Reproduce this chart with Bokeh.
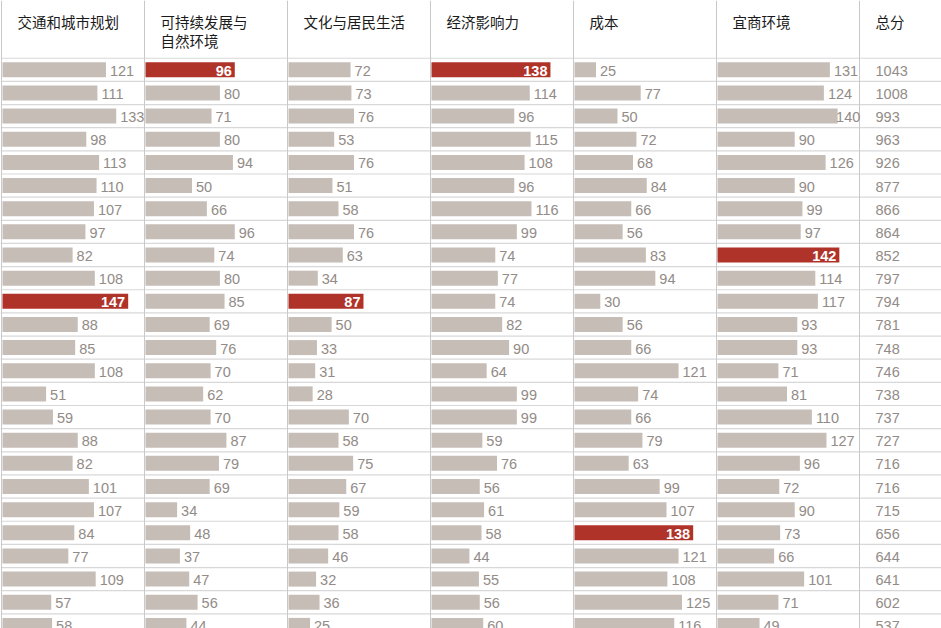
import numpy as np
from bokeh.plotting import figure
from bokeh.models import Range1d
from bokeh.core.properties import value
from bokeh.embed import file_html
from bokeh.resources import INLINE

# ---------------- data ----------------
headers = ["交通和城市规划", "可持续发展与\n自然环境", "文化与居民生活", "经济影响力", "成本", "宜商环境", "总分"]

transport = [121, 111, 133, 98, 113, 110, 107, 97, 82, 108, 147, 88, 85, 108, 51, 59, 88, 82, 101, 107, 84, 77, 109, 57, 58]
sustain = [96, 80, 71, 80, 94, 50, 66, 96, 74, 80, 85, 69, 76, 70, 62, 70, 87, 79, 69, 34, 48, 37, 47, 56, 44]
culture = [72, 73, 76, 53, 76, 51, 58, 76, 63, 34, 87, 50, 33, 31, 28, 70, 58, 75, 67, 59, 58, 46, 32, 36, 25]
economy = [138, 114, 96, 115, 108, 96, 116, 99, 74, 77, 74, 82, 90, 64, 99, 99, 59, 76, 56, 61, 58, 44, 55, 56, 60]
cost = [25, 77, 50, 72, 68, 84, 66, 56, 83, 94, 30, 56, 66, 121, 74, 66, 79, 63, 99, 107, 138, 121, 108, 125, 116]
business = [131, 124, 140, 90, 126, 90, 99, 97, 142, 114, 117, 93, 93, 71, 81, 110, 127, 96, 72, 90, 73, 66, 101, 71, 49]
total = [1043, 1008, 993, 963, 926, 877, 866, 864, 852, 797, 794, 781, 748, 746, 738, 737, 727, 716, 716, 715, 656, 644, 641, 602, 537]

series = [transport, sustain, culture, economy, cost, business]

# ---------------- layout constants ----------------
W_PX, H_PX = 941, 628
COL_SCALE = [0.855, 0.93, 0.862, 0.862, 0.86, 0.858]   # pixels per score unit, per column
COL_PX = 143         # column width in pixels
X0_PX = 2            # left of first column
ROW_PX = 23.15
ROW0_PX = 69.3

BAR = "#c6bdb7"
RED = "#b0332a"
LBL = "#928b87"
GRID = "#d8d8d8"
VLINE = "#c9c9c9"
NUMFONT = value("Liberation Sans")
CJKFONT = value("Noto Sans CJK SC")

n = len(total)
rows = list(range(n))

p = figure(width=W_PX, height=H_PX, output_backend="svg", toolbar_location=None,
           min_border=0, x_axis_type=None, y_axis_type=None)
p.x_range = Range1d(0, W_PX)   # layout range (pixels)
p.y_range = Range1d((H_PX - ROW0_PX) / ROW_PX, -ROW0_PX / ROW_PX)
p.outline_line_color = None
p.grid.visible = False
p.background_fill_color = "white"
p.border_fill_color = "white"

# one score range per column
col_left = [X0_PX + i * COL_PX for i in range(len(headers))]
for ci, sc in enumerate(COL_SCALE):
    p.extra_x_ranges[f"c{ci}"] = Range1d(-col_left[ci] / sc, (W_PX - col_left[ci]) / sc)

# horizontal rules
ys = [i - 0.5 for i in range(n + 1)]
p.segment(x0=[0] * len(ys), x1=[W_PX] * len(ys), y0=ys, y1=ys,
          line_color=GRID, line_width=1.2)

# vertical rules
vx = [c - 1 for c in col_left]
p.segment(x0=vx, x1=vx, y0=[p.y_range.start] * len(vx), y1=[p.y_range.end] * len(vx),
          line_color=VLINE, line_width=1)

# headers
hx = [c + 15 for c in col_left]
p.text(x=hx, y=[(10 - ROW0_PX) / ROW_PX] * len(hx), text=headers,
       text_font=CJKFONT, text_font_size="14.5px", text_color="#1a1a1a",
       text_baseline="top", text_align="left", text_line_height=0.92)

# bars and labels
for ci, vals in enumerate(series):
    rn = f"c{ci}"
    sc = COL_SCALE[ci]
    hi = int(np.argmax(vals))
    colors = [RED if i == hi else BAR for i in rows]
    p.hbar(y=rows, left=[0] * n, right=vals, height=15 / ROW_PX,
           fill_color=colors, line_color=None, x_range_name=rn)

    # grey labels after the bar (kept inside the column)
    lx, ly, lt = [], [], []
    for i, v in enumerate(vals):
        if i == hi:
            continue
        s = str(v)
        tw = len(s) * 7.8
        px = v * sc + 4
        if px + tw > COL_PX - 1:
            px = COL_PX - 1 - tw
        lx.append(px / sc)
        ly.append(i)
        lt.append(s)
    p.text(x=lx, y=ly, text=lt, text_font=NUMFONT, text_font_size="14.5px",
           text_color=LBL, text_baseline="middle", text_align="left", y_offset=1,
           x_range_name=rn)

    # white label inside highlighted bar
    p.text(x=[vals[hi]], y=[hi], text=[str(vals[hi])], x_offset=-3, y_offset=1,
           text_font=NUMFONT, text_font_size="14.5px", text_font_style="bold",
           text_color="white", text_baseline="middle", text_align="right",
           x_range_name=rn)

# totals column
p.text(x=[col_left[6] + 15] * n, y=rows, text=[str(t) for t in total], text_font=NUMFONT,
       text_font_size="14.5px", text_color=LBL, text_baseline="middle",
       text_align="left", y_offset=1)

open("out.html", "w").write(file_html(p, INLINE))
